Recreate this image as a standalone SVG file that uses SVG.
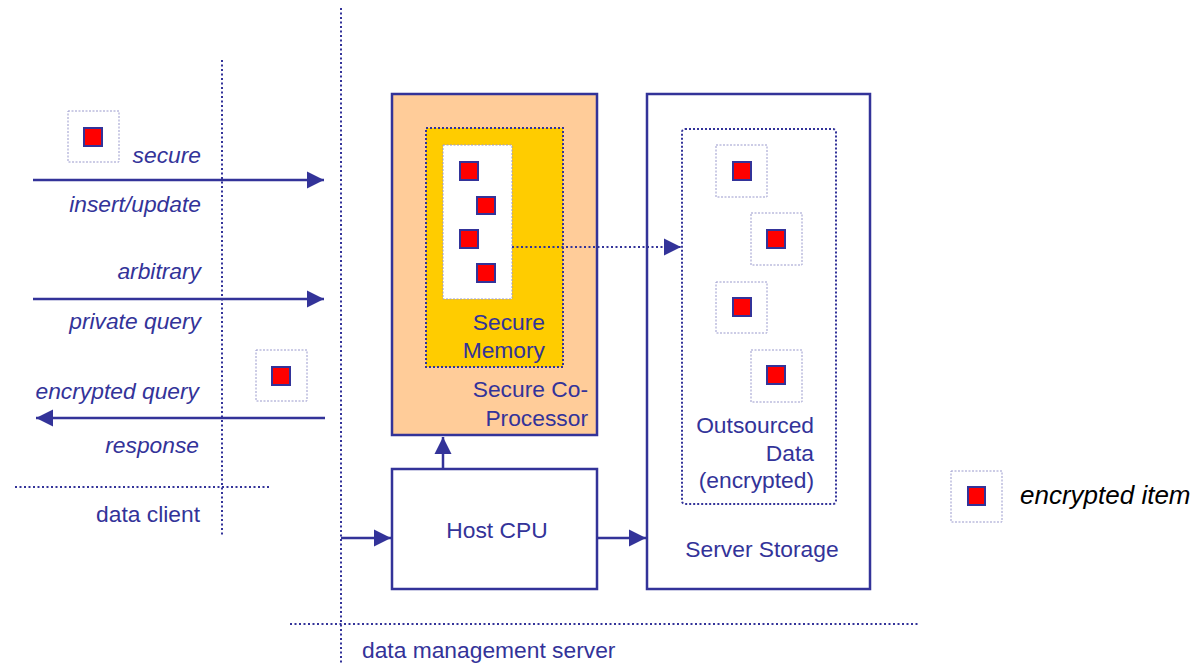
<svg xmlns="http://www.w3.org/2000/svg" width="1190" height="663" viewBox="0 0 1190 663">
<style>
.t{font-family:"Liberation Sans",Arial,sans-serif;font-size:22.8px;fill:#333399}
.i{font-style:italic}
.dot{stroke:#333399;stroke-width:2;stroke-dasharray:2 2.5;fill:none}
.ln{stroke:#333399;stroke-width:2.5;fill:none}
.ibox{fill:#fff;stroke:#9999cc;stroke-width:1;stroke-dasharray:2 1.5}
.red{fill:#ff0000;stroke:#333399;stroke-width:2}
</style>
<defs>
<marker id="ah" markerWidth="10" markerHeight="10" viewBox="0 0 10 10" refX="10" refY="5" orient="auto" markerUnits="userSpaceOnUse" style="overflow:visible">
<path d="M0,0 L10,5 L0,10 Z" fill="#333399" transform="scale(1.7)" transform-origin="10 5"/>
</marker>
</defs>
<rect width="1190" height="663" fill="#fff"/>
<g id="dividers">
<line class="dot" x1="341" y1="8" x2="341" y2="663"/>
<line class="dot" x1="222" y1="60" x2="222" y2="535"/>
<line class="dot" x1="15" y1="487" x2="270" y2="487"/>
<line class="dot" x1="290" y1="624" x2="918" y2="624"/>
</g>
<g id="coprocessor">
<rect x="392" y="94" width="205" height="341" fill="#ffcc99" stroke="#333399" stroke-width="2.5"/>
<text class="t" text-anchor="end" x="588" y="397">Secure Co-</text>
<text class="t" text-anchor="end" x="588" y="426">Processor</text>
</g>
<g id="secure-memory">
<rect x="426" y="128" width="137" height="239" fill="#ffcc00" stroke="#333399" stroke-width="2" stroke-dasharray="2 2"/>
<rect x="443" y="145" width="69" height="154" fill="#fff" stroke="#9999cc" stroke-width="1" stroke-dasharray="2 1.5"/>
<rect class="red" x="460" y="162" width="18" height="18"/>
<rect class="red" x="477" y="197" width="18" height="17"/>
<rect class="red" x="460" y="230" width="18" height="18"/>
<rect class="red" x="477" y="264" width="18" height="18"/>
<text class="t" text-anchor="end" x="545" y="330">Secure</text>
<text class="t" text-anchor="end" x="545" y="358">Memory</text>
</g>
<g id="server-storage">
<rect x="647" y="94" width="223" height="495" fill="#fff" stroke="#333399" stroke-width="2.5"/>
<text class="t" text-anchor="middle" x="762" y="557">Server Storage</text>
</g>
<g id="outsourced-data">
<rect x="682" y="129" width="154" height="375" rx="3" fill="none" stroke="#333399" stroke-width="2" stroke-dasharray="2 2"/>
<rect class="ibox" x="716" y="145" width="51" height="52"/>
<rect class="red" x="733" y="162" width="18" height="18"/>
<rect class="ibox" x="751" y="213" width="51" height="52"/>
<rect class="red" x="767" y="230" width="18" height="18"/>
<rect class="ibox" x="716" y="282" width="51" height="51"/>
<rect class="red" x="733" y="298" width="18" height="18"/>
<rect class="ibox" x="751" y="350" width="51" height="52"/>
<rect class="red" x="767" y="366" width="18" height="18"/>
<text class="t" text-anchor="end" x="814" y="433">Outsourced</text>
<text class="t" text-anchor="end" x="814" y="461">Data</text>
<text class="t" text-anchor="end" x="814" y="488">(encrypted)</text>
</g>
<g id="host-cpu">
<rect x="392" y="469" width="205" height="120" fill="#fff" stroke="#333399" stroke-width="2.5"/>
<text class="t" text-anchor="middle" x="497" y="538">Host CPU</text>
</g>
<g id="client-items">
<rect class="ibox" x="68" y="111" width="51" height="51"/>
<rect class="red" x="84" y="128" width="18" height="18"/>
<rect class="ibox" x="256" y="350" width="51" height="51"/>
<rect class="red" x="272" y="367" width="18" height="18"/>
</g>
<g id="labels">
<text class="t i" text-anchor="end" x="201" y="163">secure</text>
<text class="t i" text-anchor="end" x="201" y="212">insert/update</text>
<text class="t i" text-anchor="end" x="201" y="279">arbitrary</text>
<text class="t i" text-anchor="end" x="201" y="329">private query</text>
<text class="t i" text-anchor="end" x="199" y="399">encrypted query</text>
<text class="t i" text-anchor="end" x="199" y="453">response</text>
<text class="t" text-anchor="end" x="200" y="522">data client</text>
<text class="t" x="362" y="658">data management server</text>
</g>
<g id="connectors">
<line class="ln" x1="33" y1="180" x2="324" y2="180" marker-end="url(#ah)"/>
<line class="ln" x1="33" y1="299" x2="324" y2="299" marker-end="url(#ah)"/>
<line class="ln" x1="325" y1="418" x2="36" y2="418" marker-end="url(#ah)"/>
<line class="ln" x1="443" y1="469" x2="443" y2="437" marker-end="url(#ah)"/>
<line class="ln" x1="341" y1="538" x2="391" y2="538" marker-end="url(#ah)"/>
<line class="ln" x1="597" y1="538" x2="646" y2="538" marker-end="url(#ah)"/>
<line x1="512" y1="247" x2="681" y2="247" stroke="#333399" stroke-width="2" stroke-dasharray="2 2.5" marker-end="url(#ah)"/>
</g>
<g id="legend">
<rect class="ibox" x="951" y="471" width="51" height="51"/>
<rect class="red" x="968" y="487" width="17" height="18"/>
<text x="1020" y="504" style="font-family:'Liberation Sans',Arial,sans-serif;font-size:26px;font-style:italic;fill:#000">encrypted item</text>
</g>
</svg>
